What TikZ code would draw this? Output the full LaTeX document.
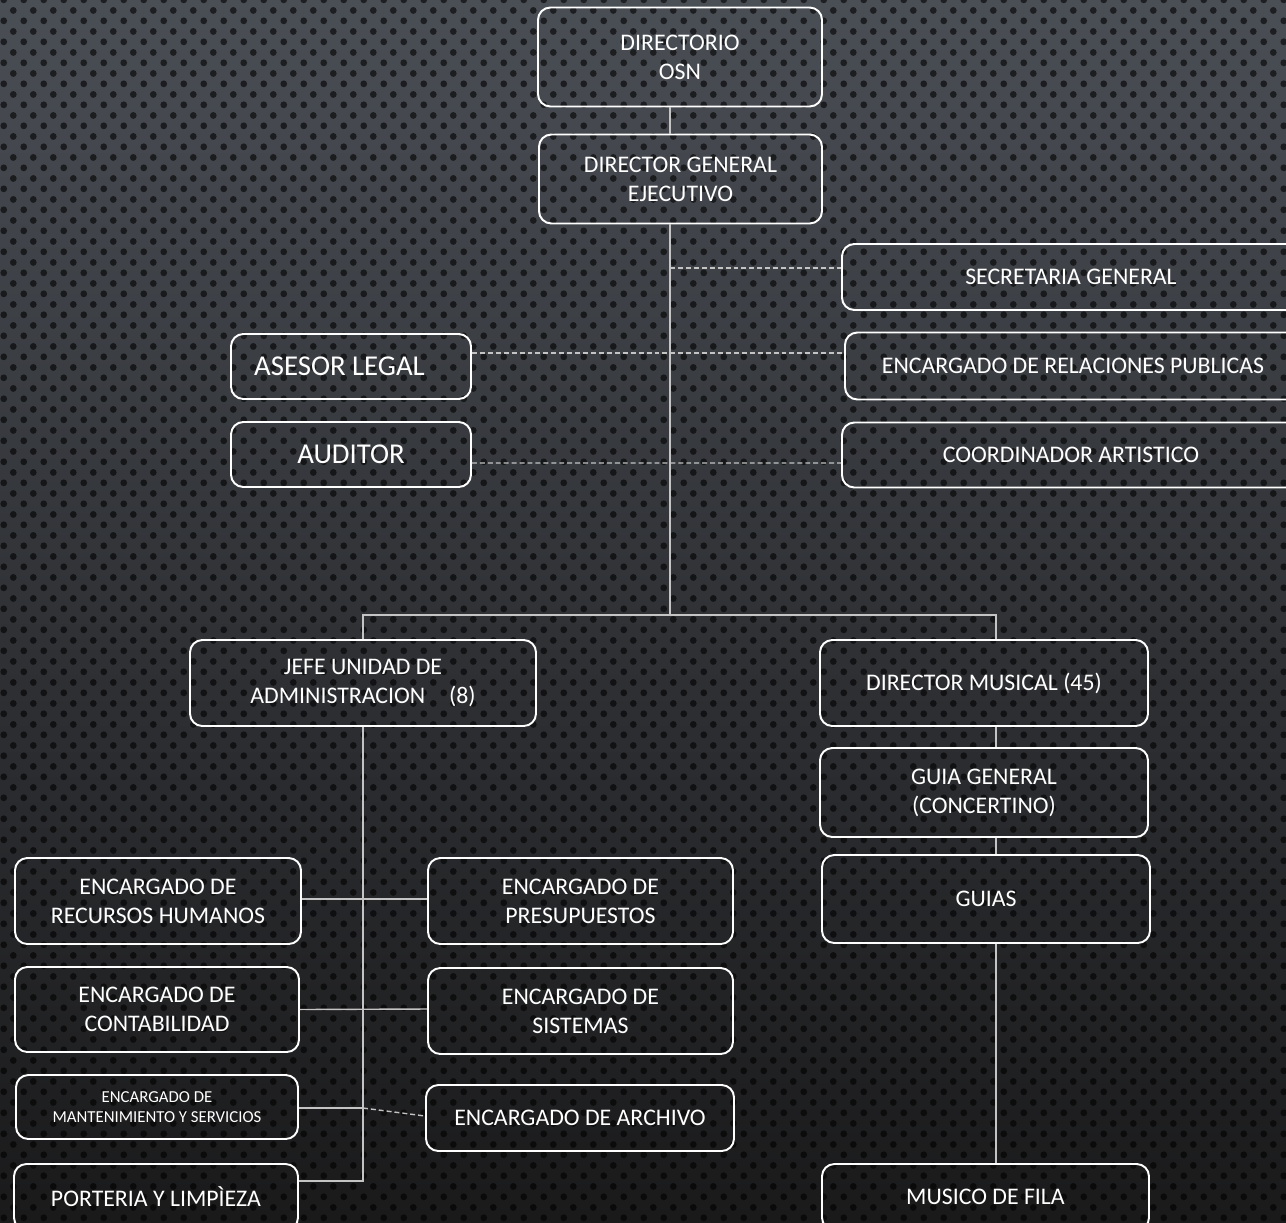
\documentclass[tikz,border=0pt]{standalone}
\usepackage{fontspec}
\setmainfont{Carlito}
\usetikzlibrary{calc,patterns}
\definecolor{bgtop}{HTML}{4A4E55}
\definecolor{bgmid}{HTML}{303236}
\definecolor{bgbot}{HTML}{1A1A1B}
\definecolor{linkc}{HTML}{C4C4C4}
\pgfdeclarepatternformonly{bgdots}{\pgfpointorigin}{\pgfqpoint{11.34pt}{12.1pt}}{\pgfqpoint{11.34pt}{12.1pt}}{%
  \pgfpathcircle{\pgfqpoint{2.835pt}{3.025pt}}{2.0pt}%
  \pgfpathcircle{\pgfqpoint{8.505pt}{9.075pt}}{2.0pt}%
  \pgfusepath{fill}}
\begin{document}
\begin{tikzpicture}[x=0.567pt,y=-0.567pt,
  wh/.style 2 args={minimum width=#1*0.567pt,minimum height=#2*0.567pt},
  box/.style={draw=white,line width=1.1pt,rounded corners=7pt,text=white,inner sep=0pt,align=center,
    font=\fontsize{13.5}{16.4}\selectfont},
  bigbox/.style={box,font=\fontsize{16.3}{19}\selectfont},
  smallbox/.style={box,font=\fontsize{9.5}{11.3}\selectfont},
  link/.style={draw=linkc,line width=0.8pt},
  dlink/.style={link,dash pattern=on 2.8pt off 1.7pt}]
\useasboundingbox (0,0) rectangle (1286,1222);
\clip (0,0) rectangle (1286,1222);
% background
\shade[top color=bgtop,bottom color=bgbot,middle color=bgmid] (0,0) rectangle (1286,1222);
\fill[pattern=bgdots,pattern color=black,opacity=0.6] (0,0) rectangle (1286,1222);
% nodes
\node[box,wh={284}{99}] (dir) at (680,57) {DIRECTORIO\\OSN};
\node[box,wh={283}{89}] (dge) at (680.5,179) {DIRECTOR GENERAL\\EJECUTIVO};
\node[box,wh={458}{66}] (sec) at (1071,277) {SECRETARIA GENERAL};
\node[box,wh={456}{67}] (rp) at (1073,366) {ENCARGADO DE RELACIONES PUBLICAS};
\node[box,wh={458}{65}] (coo) at (1071,455) {COORDINADOR ARTISTICO};
\node[bigbox,wh={240}{65},align=none] (ase) at (351,366.5) {\hspace*{-13pt}ASESOR LEGAL};
\node[bigbox,wh={240}{65}] (aud) at (351,454.5) {AUDITOR};
\node[box,wh={346}{86}] (jefe) at (363,683) {JEFE UNIDAD DE\\ADMINISTRACION\quad(8)};
\node[box,wh={328}{86}] (dm) at (984,683) {DIRECTOR MUSICAL (45)};
\node[box,wh={328}{89}] (gg) at (984,792.5) {GUIA GENERAL\\(CONCERTINO)};
\node[box,wh={328}{88}] (gu) at (986,899) {GUIAS};
\node[box,wh={286}{86}] (rh) at (158,901) {ENCARGADO DE\\RECURSOS HUMANOS};
\node[box,wh={305}{86}] (pre) at (580.5,901) {ENCARGADO DE\\PRESUPUESTOS};
\node[box,wh={284}{85}] (con) at (157,1009.5) {ENCARGADO DE\\CONTABILIDAD};
\node[box,wh={305}{86}] (sis) at (580.5,1011) {ENCARGADO DE\\SISTEMAS};
\node[smallbox,wh={282}{64}] (man) at (157,1107) {ENCARGADO DE\\MANTENIMIENTO Y SERVICIOS};
\node[box,wh={308}{66}] (arc) at (580,1118) {ENCARGADO DE ARCHIVO};
\node[box,wh={284}{66}] (por) at (156,1197) {PORTERIA Y LIMPÌEZA};
\node[box,wh={327}{66}] (mf) at (985.5,1197) {MUSICO DE FILA};
% connector helpers
\coordinate (tx) at (670,0);
\coordinate (rx) at (996,0);
\coordinate (split) at (670,615);
% top trunk
\draw[link] (tx |- dir.south) -- (tx |- dge.north);
\draw[link] (tx |- dge.south) -- (split);
\draw[dlink] (tx |- 0,268) -- ($(sec.west)+(0,-9)$);
\draw[dlink] ($(ase.east)+(0,-13.5)$) -- ($(rp.west)+(0,-13)$);
\draw[dlink] ($(aud.east)+(0,8.5)$) -- ($(coo.west)+(0,8)$);
\draw[link] (jefe.north) |- (split) -| (rx |- dm.north);
% music branch
\draw[link] (rx |- dm.south) -- (rx |- gg.north);
\draw[link] (rx |- gg.south) -- (rx |- gu.north);
\draw[link] (rx |- gu.south) -- (rx |- mf.north);
% admin branch
\draw[link] (jefe.south) -- (jefe.south |- 0,1181) -- ($(por.east)+(0,-16)$);
\draw[link] ($(rh.east)+(0,-2)$) -- ($(pre.west)+(0,-2)$);
\draw[link] (con.east) -- ($(sis.west)+(0,-2)$);
\draw[link] ($(man.east)+(0,1)$) -- ($(man.east -| jefe.south)+(0,1)$) coordinate (mj);
\draw[dlink] (mj) -- ($(arc.west)+(0,-2)$);
\end{tikzpicture}
\end{document}
